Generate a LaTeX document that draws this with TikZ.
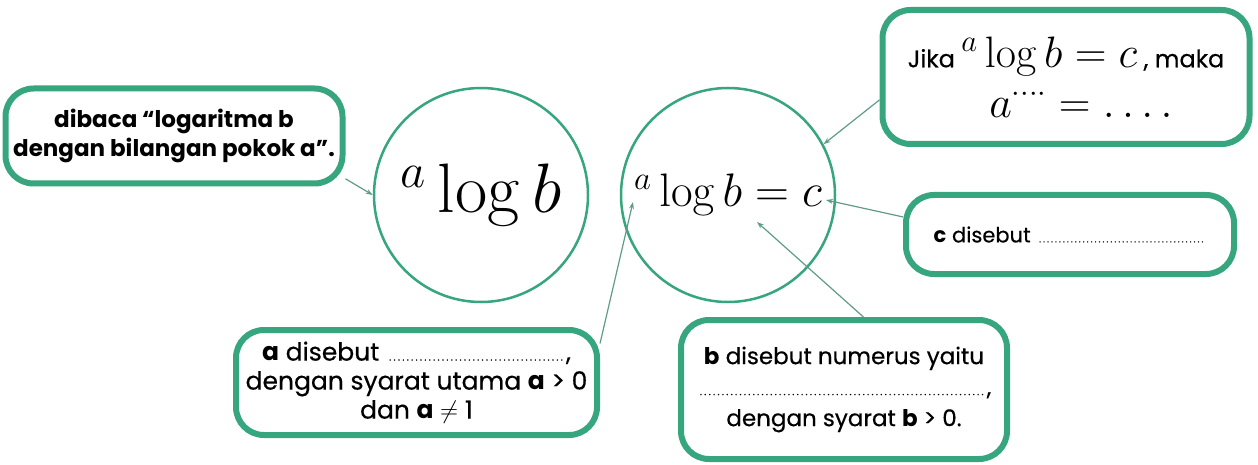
\documentclass[tikz,border=0pt]{standalone}
\usepackage{fix-cm}
\usepackage[no-math]{fontspec}
\setmainfont{Poppins}[UprightFeatures={FakeBold=0.4}]
\usetikzlibrary{arrows.meta,positioning}
\definecolor{hijau}{RGB}{55,165,125}
\definecolor{abuhijau}{RGB}{95,155,135}

\begin{document}
\begin{tikzpicture}[x=1pt,y=-1pt,
  kotak/.style={draw=hijau, line width=6pt, rounded corners=28pt, align=center, inner sep=0pt, text=black},
  lingkar/.style={draw=hijau, circle, line width=2.5pt, minimum size=214pt, inner sep=0pt},
  panah/.style={draw=abuhijau, line width=1.2pt, -{Stealth[length=7pt,width=5pt]}}]
  \useasboundingbox (0,0) rectangle (1258,465);

  \node[lingkar] (logab) at (481,195) {\fontsize{70}{70}\selectfont$^a\log b$};
  \node[lingkar] (logabc) at (728,195) {\fontsize{47}{47}\selectfont$^a\log b = c$};

  \node[kotak, minimum width=337pt, minimum height=95pt, font=\fontsize{23}{29}\selectfont\bfseries] (dibaca) at (174,136) {dibaca “logaritma b\\dengan bilangan pokok a”.};
  \node[kotak, minimum width=367pt, minimum height=134pt, font=\fontsize{24}{50}\selectfont] (jika) at (1066,77) {Jika {\fontsize{44}{44}\selectfont$^a\log b = c$}\ , maka\\\hspace*{30pt}{\fontsize{44}{44}\selectfont$a^{\cdot\cdot\cdot\cdot} =\ldots.$}};
  \node[kotak, minimum width=328pt, minimum height=79pt, font=\fontsize{21}{25}\selectfont] (cdis) at (1070,234.5) {\textbf{c} disebut {\fontsize{9}{9}\selectfont\makebox[170pt]{\dotfill}}};
  \node[kotak, minimum width=361pt, minimum height=105pt, font=\fontsize{25}{29}\selectfont] (adis) at (416.5,382.5) {\textbf{a} disebut {\fontsize{10}{10}\selectfont\makebox[180pt]{\dotfill}},\\dengan syarat utama \textbf{a} > 0\\dan \textbf{a} $\neq$ 1};
  \node[kotak, minimum width=326pt, minimum height=139pt, font=\fontsize{23}{31}\selectfont] (bdis) at (844,389.5) {\textbf{b} disebut numerus yaitu\\{\fontsize{10}{10}\selectfont\makebox[290pt]{\dotfill}},\\dengan syarat \textbf{b} > 0.};

  \coordinate (titika) at (633,202);
  \coordinate (titikc) at (826,200);
  \coordinate (titiksama) at (757,222);

  \draw[panah] (dibaca.-14) -- (logab.west);
  \draw[panah] (jika.187) -- (logabc.28);
  \draw[panah] (cdis.174) -- (titikc);
  \draw[panah] (adis.12) -- (titika);
  \draw[panah] (bdis.75) -- (titiksama);
\end{tikzpicture}
\end{document}
